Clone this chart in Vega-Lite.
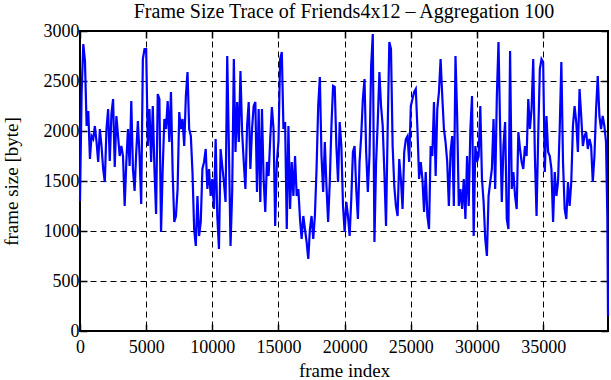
{
  "$schema": "https://vega.github.io/schema/vega-lite/v6.json",
  "width": 528,
  "height": 300,
  "autosize": "none",
  "padding": {"left": 80, "top": 31, "right": 3, "bottom": 49},
  "background": "white",
  "title": {"text": "Frame Size Trace of Friends4x12 – Aggregation 100", "font": "Liberation Serif", "fontSize": 20, "fontWeight": "normal", "color": "black", "offset": 0},
  "config": {
    "view": {"stroke": "black", "strokeWidth": 2},
    "axis": {
      "labelFont": "Liberation Serif", "labelFontSize": 18, "labelColor": "black",
      "titleFont": "Liberation Serif", "titleFontSize": 19, "titleFontWeight": "normal", "titleColor": "black",
      "tickColor": "black", "tickSize": -7, "tickWidth": 1.5,
      "domain": false, "labelFlush": false,
      "gridColor": "black", "gridDash": [6, 4], "gridWidth": 1, "gridOpacity": 1
    }
  },
  "data": {"values": [
    {"f":0,"s":1300},{"f":125,"s":2400},{"f":250,"s":2870},{"f":375,"s":2700},{"f":500,"s":2050},{"f":625,"s":2200},{"f":750,"s":1720},{"f":875,"s":1950},{"f":1000,"s":1920},{"f":1125,"s":2050},{"f":1250,"s":1890},{"f":1375,"s":1690},{"f":1500,"s":2020},{"f":1625,"s":1850},{"f":1750,"s":1620},{"f":1875,"s":1490},{"f":2000,"s":2020},{"f":2125,"s":2220},{"f":2250,"s":1700},{"f":2375,"s":2170},{"f":2500,"s":2320},{"f":2625,"s":1640},{"f":2750,"s":2150},{"f":2875,"s":1950},{"f":3000,"s":1750},{"f":3125,"s":1850},{"f":3250,"s":1750},{"f":3375,"s":1250},{"f":3500,"s":1690},{"f":3625,"s":2020},{"f":3750,"s":1650},{"f":3875,"s":2300},{"f":4000,"s":1620},{"f":4125,"s":1400},{"f":4250,"s":1790},{"f":4375,"s":2100},{"f":4500,"s":1750},{"f":4625,"s":1270},{"f":4750,"s":2720},{"f":4875,"s":2820},
    {"f":5000,"s":2820},{"f":5125,"s":1850},{"f":5250,"s":2220},{"f":5375,"s":1690},{"f":5500,"s":2250},{"f":5625,"s":1620},{"f":5750,"s":1170},{"f":5875,"s":2370},{"f":6000,"s":2320},{"f":6125,"s":990},{"f":6250,"s":1620},{"f":6375,"s":2120},{"f":6500,"s":2020},{"f":6625,"s":2300},{"f":6750,"s":1890},{"f":6875,"s":2390},{"f":7000,"s":1590},{"f":7125,"s":1090},{"f":7250,"s":1150},{"f":7375,"s":1420},{"f":7500,"s":2190},{"f":7625,"s":2020},{"f":7750,"s":2120},{"f":7875,"s":1850},{"f":8000,"s":2350},{"f":8125,"s":2590},{"f":8250,"s":2020},{"f":8375,"s":1950},{"f":8500,"s":1590},{"f":8625,"s":1020},{"f":8750,"s":850},{"f":8875,"s":1350},{"f":9000,"s":950},{"f":9125,"s":1090},{"f":9250,"s":1620},{"f":9375,"s":1690},{"f":9500,"s":1820},{"f":9625,"s":1420},{"f":9750,"s":1620},{"f":9875,"s":1350},
    {"f":10000,"s":1520},{"f":10125,"s":1220},{"f":10250,"s":1920},{"f":10375,"s":1150},{"f":10500,"s":820},{"f":10625,"s":1820},{"f":10750,"s":1650},{"f":10875,"s":1490},{"f":11000,"s":1290},{"f":11125,"s":2750},{"f":11250,"s":1850},{"f":11375,"s":850},{"f":11500,"s":1390},{"f":11625,"s":2720},{"f":11750,"s":1790},{"f":11875,"s":2290},{"f":12000,"s":1890},{"f":12125,"s":2600},{"f":12250,"s":1990},{"f":12375,"s":1690},{"f":12500,"s":1420},{"f":12625,"s":2050},{"f":12750,"s":2290},{"f":12875,"s":1620},{"f":13000,"s":2020},{"f":13125,"s":2250},{"f":13250,"s":2290},{"f":13375,"s":1390},{"f":13500,"s":2220},{"f":13625,"s":1290},{"f":13750,"s":2220},{"f":13875,"s":1520},{"f":14000,"s":1190},{"f":14125,"s":1690},{"f":14250,"s":1550},{"f":14375,"s":1920},{"f":14500,"s":2240},{"f":14625,"s":2020},{"f":14750,"s":1050},{"f":14875,"s":1690},
    {"f":15000,"s":1900},{"f":15125,"s":2720},{"f":15250,"s":2790},{"f":15375,"s":2020},{"f":15500,"s":2090},{"f":15625,"s":1020},{"f":15750,"s":2050},{"f":15875,"s":1220},{"f":16000,"s":1690},{"f":16125,"s":1350},{"f":16250,"s":1750},{"f":16375,"s":1350},{"f":16500,"s":1420},{"f":16625,"s":1120},{"f":16750,"s":920},{"f":16875,"s":1150},{"f":17000,"s":1020},{"f":17125,"s":890},{"f":17250,"s":720},{"f":17375,"s":1020},{"f":17500,"s":1150},{"f":17625,"s":920},{"f":17750,"s":1150},{"f":17875,"s":1620},{"f":18000,"s":2250},{"f":18125,"s":2540},{"f":18250,"s":1750},{"f":18375,"s":1390},{"f":18500,"s":1890},{"f":18625,"s":1450},{"f":18750,"s":1090},{"f":18875,"s":1490},{"f":19000,"s":2050},{"f":19125,"s":2450},{"f":19250,"s":2440},{"f":19375,"s":1850},{"f":19500,"s":1490},{"f":19625,"s":2090},{"f":19750,"s":1850},{"f":19875,"s":1250},
    {"f":20000,"s":990},{"f":20125,"s":1290},{"f":20250,"s":1150},{"f":20375,"s":950},{"f":20500,"s":1320},{"f":20625,"s":1790},{"f":20750,"s":1850},{"f":20875,"s":1420},{"f":21000,"s":1120},{"f":21125,"s":1690},{"f":21250,"s":1950},{"f":21375,"s":2320},{"f":21500,"s":2520},{"f":21625,"s":1790},{"f":21750,"s":1390},{"f":21875,"s":1750},{"f":22000,"s":2650},{"f":22125,"s":2970},{"f":22250,"s":890},{"f":22375,"s":1690},{"f":22500,"s":2090},{"f":22625,"s":2590},{"f":22750,"s":2250},{"f":22875,"s":2050},{"f":23000,"s":1590},{"f":23125,"s":1050},{"f":23250,"s":2020},{"f":23375,"s":2890},{"f":23500,"s":2820},{"f":23625,"s":1850},{"f":23750,"s":1450},{"f":23875,"s":1250},{"f":24000,"s":1150},{"f":24125,"s":1720},{"f":24250,"s":1520},{"f":24375,"s":1220},{"f":24500,"s":1790},{"f":24625,"s":1920},{"f":24750,"s":1950},{"f":24875,"s":1690},
    {"f":25000,"s":2250},{"f":25125,"s":2320},{"f":25250,"s":2390},{"f":25375,"s":2420},{"f":25500,"s":2020},{"f":25625,"s":1520},{"f":25750,"s":1690},{"f":25875,"s":1520},{"f":26000,"s":1190},{"f":26125,"s":1590},{"f":26250,"s":1150},{"f":26375,"s":1020},{"f":26500,"s":1850},{"f":26625,"s":1750},{"f":26750,"s":2290},{"f":26875,"s":1550},{"f":27000,"s":2220},{"f":27125,"s":2390},{"f":27250,"s":2720},{"f":27375,"s":2350},{"f":27500,"s":2020},{"f":27625,"s":1890},{"f":27750,"s":1690},{"f":27875,"s":1250},{"f":28000,"s":1790},{"f":28125,"s":1950},{"f":28250,"s":1250},{"f":28375,"s":2750},{"f":28500,"s":2150},{"f":28625,"s":1250},{"f":28750,"s":1420},{"f":28875,"s":1220},{"f":29000,"s":1520},{"f":29125,"s":1120},{"f":29250,"s":1750},{"f":29375,"s":1250},{"f":29500,"s":2020},{"f":29625,"s":2350},{"f":29750,"s":950},{"f":29875,"s":1850},
    {"f":30000,"s":1690},{"f":30125,"s":1750},{"f":30250,"s":2250},{"f":30375,"s":1520},{"f":30500,"s":1290},{"f":30625,"s":920},{"f":30750,"s":750},{"f":30875,"s":1350},{"f":31000,"s":1490},{"f":31125,"s":1620},{"f":31250,"s":2120},{"f":31375,"s":1420},{"f":31500,"s":2350},{"f":31625,"s":2890},{"f":31750,"s":2020},{"f":31875,"s":1290},{"f":32000,"s":1850},{"f":32125,"s":2090},{"f":32250,"s":1120},{"f":32375,"s":1020},{"f":32500,"s":2800},{"f":32625,"s":1420},{"f":32750,"s":1590},{"f":32875,"s":1350},{"f":33000,"s":1220},{"f":33125,"s":1990},{"f":33250,"s":1820},{"f":33375,"s":1690},{"f":33500,"s":1620},{"f":33625,"s":1850},{"f":33750,"s":1750},{"f":33875,"s":2320},{"f":34000,"s":2020},{"f":34125,"s":2220},{"f":34250,"s":2720},{"f":34375,"s":1750},{"f":34500,"s":1150},{"f":34625,"s":1950},{"f":34750,"s":2620},{"f":34875,"s":2720},
    {"f":35000,"s":2690},{"f":35125,"s":1590},{"f":35250,"s":2150},{"f":35375,"s":1790},{"f":35500,"s":1750},{"f":35625,"s":1620},{"f":35750,"s":1090},{"f":35875,"s":1590},{"f":36000,"s":1350},{"f":36125,"s":1490},{"f":36250,"s":2020},{"f":36375,"s":2690},{"f":36500,"s":1690},{"f":36625,"s":1220},{"f":36750,"s":1120},{"f":36875,"s":1490},{"f":37000,"s":1250},{"f":37125,"s":1490},{"f":37250,"s":2050},{"f":37375,"s":2250},{"f":37500,"s":2090},{"f":37625,"s":1790},{"f":37750,"s":2420},{"f":37875,"s":2150},{"f":38000,"s":1850},{"f":38125,"s":1950},{"f":38250,"s":1990},{"f":38375,"s":1820},{"f":38500,"s":1920},{"f":38625,"s":1850},{"f":38750,"s":1490},{"f":38875,"s":1750},{"f":39000,"s":2220},{"f":39125,"s":2550},{"f":39250,"s":2150},{"f":39375,"s":2020},{"f":39500,"s":2150},{"f":39625,"s":2050},{"f":39750,"s":1890},{"f":39850,"s":1150},{"f":39900,"s":150}
  ]},
  "layer": [
    {
      "mark": {"type": "line", "color": "#0000ff", "strokeWidth": 2.2},
      "encoding": {
        "x": {"field": "f", "type": "quantitative", "scale": {"domain": [0, 39900], "nice": false, "zero": false},
              "axis": {"orient": "bottom", "title": "frame index", "values": [0,5000,10000,15000,20000,25000,30000,35000], "format": "d", "labelPadding": 14, "titlePadding": 5, "grid": true}},
        "y": {"field": "s", "type": "quantitative", "scale": {"domain": [0, 3000], "nice": false},
              "axis": {"orient": "left", "title": "frame size [byte]", "values": [0,500,1000,1500,2000,2500,3000], "format": "d", "labelPadding": 8, "titlePadding": 22, "grid": true}}
      }
    },
    {
      "mark": {"type": "line", "opacity": 0},
      "encoding": {
        "x": {"field": "f", "type": "quantitative", "axis": {"orient": "top", "title": null, "labels": false, "grid": false, "values": [0,5000,10000,15000,20000,25000,30000,35000]}},
        "y": {"field": "s", "type": "quantitative", "axis": {"orient": "right", "title": null, "labels": false, "grid": false, "values": [0,500,1000,1500,2000,2500,3000]}}
      }
    }
  ],
  "resolve": {"axis": {"x": "independent", "y": "independent"}}
}
